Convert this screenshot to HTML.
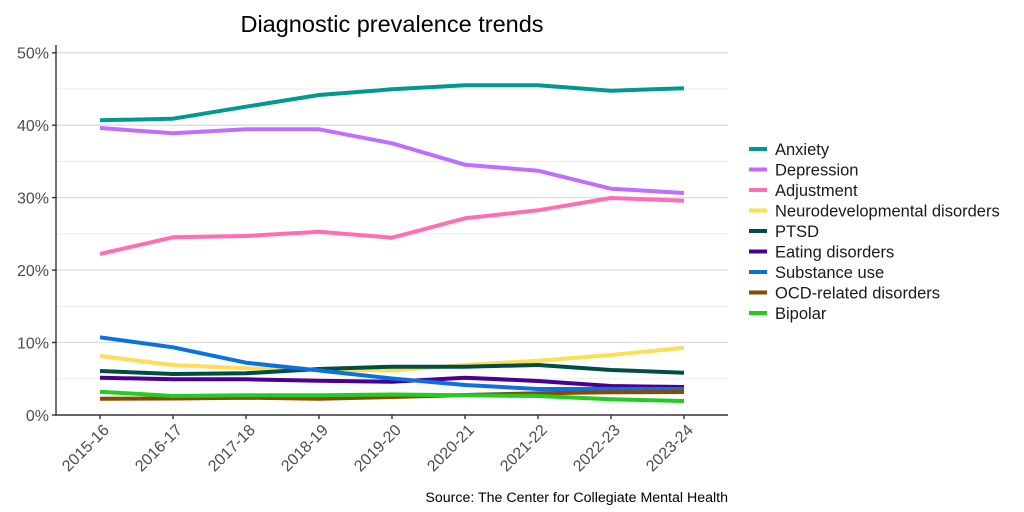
<!DOCTYPE html>
<html><head><meta charset="utf-8"><style>
html,body{margin:0;padding:0;background:#fff;}
svg{display:block;font-family:"Liberation Sans",Arial,sans-serif;}
</style></head><body>
<svg width="1024" height="512" viewBox="0 0 1024 512" xmlns="http://www.w3.org/2000/svg">
<rect width="1024" height="512" fill="#fff"/>
<text x="392" y="32" font-size="23.5" fill="#000" text-anchor="middle">Diagnostic prevalence trends</text>
<!-- minor grid -->
<g stroke="#ebebeb" stroke-width="1">
<line x1="56" x2="728" y1="378.8" y2="378.8"/>
<line x1="56" x2="728" y1="306.3" y2="306.3"/>
<line x1="56" x2="728" y1="233.9" y2="233.9"/>
<line x1="56" x2="728" y1="161.4" y2="161.4"/>
<line x1="56" x2="728" y1="89" y2="89"/>
</g>
<g stroke="#dcdcdc" stroke-width="1.3">
<line x1="56" x2="728" y1="342.5" y2="342.5"/>
<line x1="56" x2="728" y1="270.1" y2="270.1"/>
<line x1="56" x2="728" y1="197.6" y2="197.6"/>
<line x1="56" x2="728" y1="125.2" y2="125.2"/>
<line x1="56" x2="728" y1="52.8" y2="52.8"/>
</g>
<!-- series -->
<g fill="none" stroke-width="4" stroke-linejoin="round" stroke-linecap="butt">
<polyline stroke="#00998f" points="100,120.3 173,118.7 246,106.7 319,95 392,89.3 465,85.3 538,85.3 611,90.7 684,88.3"/>
<polyline stroke="#bf6fff" points="100,128 173,133.3 246,129.3 319,129.3 392,143.3 465,164.7 538,170.7 611,188.7 684,193"/>
<polyline stroke="#ff6eb4" points="100,254 173,237.3 246,236 319,231.7 392,237.7 465,218.3 538,210.3 611,198 684,200.7"/>
<polyline stroke="#ffdd55" points="100,356 173,365 246,368.3 319,370 392,370.5 465,365 538,360.7 611,355 684,347.7"/>
<polyline stroke="#004d46" points="100,371 173,374 246,373.3 319,369 392,366.7 465,366.7 538,365 611,370 684,372.7"/>
<polyline stroke="#4b0092" points="100,377.7 173,379.3 246,379.3 319,380.7 392,381.8 465,377.7 538,381 611,386 684,387"/>
<polyline stroke="#0a72e0" points="100,337.3 173,347.3 246,362.7 319,370.5 392,378.5 465,385 538,389 611,389 684,389"/>
<polyline stroke="#8b4a00" points="100,398.7 173,398.5 246,397.7 319,398.7 392,397 465,395 538,393.3 611,392.3 684,392"/>
<polyline stroke="#22cc22" points="100,391.7 173,396 246,395.3 319,395.3 392,394.5 465,395.3 538,396 611,399.3 684,401"/>
</g>
<!-- axes -->
<g stroke="#333" stroke-width="1.4">
<line x1="56" x2="56" y1="45" y2="415.7"/>
<line x1="55.3" x2="728" y1="415" y2="415"/>
<line x1="52" x2="56" y1="415" y2="415"/>
<line x1="52" x2="56" y1="342.5" y2="342.5"/>
<line x1="52" x2="56" y1="270.1" y2="270.1"/>
<line x1="52" x2="56" y1="197.6" y2="197.6"/>
<line x1="52" x2="56" y1="125.2" y2="125.2"/>
<line x1="52" x2="56" y1="52.8" y2="52.8"/>
<line x1="100" x2="100" y1="415" y2="419"/>
<line x1="173" x2="173" y1="415" y2="419"/>
<line x1="246" x2="246" y1="415" y2="419"/>
<line x1="319" x2="319" y1="415" y2="419"/>
<line x1="392" x2="392" y1="415" y2="419"/>
<line x1="465" x2="465" y1="415" y2="419"/>
<line x1="538" x2="538" y1="415" y2="419"/>
<line x1="611" x2="611" y1="415" y2="419"/>
<line x1="684" x2="684" y1="415" y2="419"/>
</g>
<g font-size="16" fill="#4d4d4d" text-anchor="end">
<text x="49" y="420.8">0%</text>
<text x="49" y="348.3">10%</text>
<text x="49" y="275.9">20%</text>
<text x="49" y="203.4">30%</text>
<text x="49" y="131">40%</text>
<text x="49" y="58.6">50%</text>
<text transform="translate(110,431) rotate(-45)">2015-16</text>
<text transform="translate(183,431) rotate(-45)">2016-17</text>
<text transform="translate(256,431) rotate(-45)">2017-18</text>
<text transform="translate(329,431) rotate(-45)">2018-19</text>
<text transform="translate(402,431) rotate(-45)">2019-20</text>
<text transform="translate(475,431) rotate(-45)">2020-21</text>
<text transform="translate(548,431) rotate(-45)">2021-22</text>
<text transform="translate(621,431) rotate(-45)">2022-23</text>
<text transform="translate(694,431) rotate(-45)">2023-24</text>
</g>
<!-- legend -->
<g stroke-width="4">
<line x1="749" x2="767" y1="149" y2="149" stroke="#00998f"/>
<line x1="749" x2="767" y1="169.5" y2="169.5" stroke="#bf6fff"/>
<line x1="749" x2="767" y1="190" y2="190" stroke="#ff6eb4"/>
<line x1="749" x2="767" y1="210.5" y2="210.5" stroke="#ffdd55"/>
<line x1="749" x2="767" y1="231" y2="231" stroke="#004d46"/>
<line x1="749" x2="767" y1="251.5" y2="251.5" stroke="#4b0092"/>
<line x1="749" x2="767" y1="272" y2="272" stroke="#0a72e0"/>
<line x1="749" x2="767" y1="292.5" y2="292.5" stroke="#8b4a00"/>
<line x1="749" x2="767" y1="313" y2="313" stroke="#22cc22"/>
</g>
<g font-size="16.5" fill="#1a1a1a">
<text x="775" y="155">Anxiety</text>
<text x="775" y="175.5">Depression</text>
<text x="775" y="196">Adjustment</text>
<text x="775" y="216.5">Neurodevelopmental disorders</text>
<text x="775" y="237">PTSD</text>
<text x="775" y="257.5">Eating disorders</text>
<text x="775" y="278">Substance use</text>
<text x="775" y="298.5">OCD-related disorders</text>
<text x="775" y="319">Bipolar</text>
</g>
<text x="728" y="502" font-size="14.2" fill="#000" text-anchor="end">Source: The Center for Collegiate Mental Health</text>
</svg>
</body></html>
